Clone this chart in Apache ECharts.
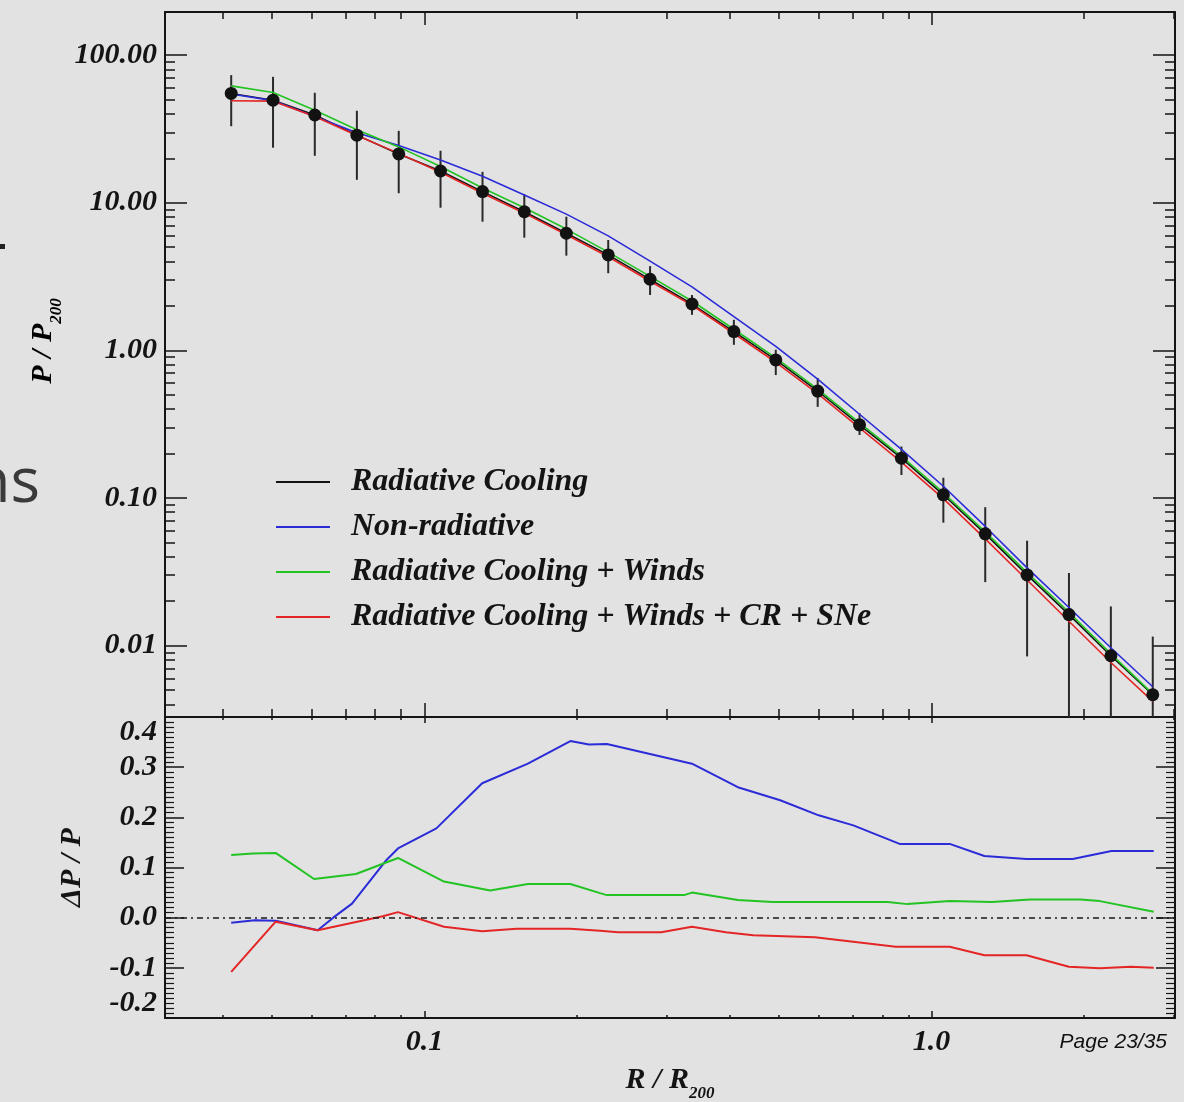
<!DOCTYPE html>
<html>
<head>
<meta charset="utf-8">
<script src="https://cdn.jsdelivr.net/npm/echarts@6/dist/echarts.min.js"></script>
<style>
  html, body { margin: 0; padding: 0; background: #e2e2e2; }
  #chart { width: 1184px; height: 1102px; }
</style>
</head>
<body>
<div id="chart"></div>
<script>
// ---- Radial bins (R / R200) of the pressure profiles ----
const radius = [0.0416, 0.0503, 0.0608, 0.0736, 0.0890, 0.1076, 0.1302, 0.1574, 0.1905, 0.2304,
                0.2786, 0.3370, 0.4076, 0.4930, 0.5963, 0.7211, 0.8722, 1.055, 1.276, 1.543,
                1.866, 2.257, 2.730];

// ---- P / P200 for each run ----
const pCooling = [55.0, 49.5, 39.3, 28.7, 21.4, 16.4, 11.9, 8.69, 6.21, 4.43,
                  3.03, 2.06, 1.34, 0.861, 0.530, 0.313, 0.186, 0.105, 0.0571, 0.0301,
                  0.0162, 0.00853, 0.00464];
const pNonRad = [54.5, 49.2, 38.4, 29.8, 24.4, 19.5, 15.1, 11.3, 8.37, 5.96,
                 4.02, 2.69, 1.69, 1.065, 0.639, 0.369, 0.213, 0.120, 0.0641, 0.0336,
                 0.0181, 0.00966, 0.00526];
const pWinds = [61.9, 55.9, 42.3, 31.2, 23.9, 17.6, 12.6, 9.26, 6.63, 4.63,
                3.17, 2.16, 1.39, 0.888, 0.546, 0.323, 0.191, 0.1085, 0.0589, 0.0312,
                0.0168, 0.00879, 0.00470];
const pWindsCR = [49.1, 48.8, 38.4, 28.5, 21.6, 16.1, 11.6, 8.50, 6.07, 4.31,
                  2.94, 2.02, 1.30, 0.830, 0.509, 0.298, 0.175, 0.0989, 0.0528, 0.0278,
                  0.0146, 0.00768, 0.00418];

// ---- Scatter of the radiative cooling profile (error bar ends) ----
const errLow = [33.0, 23.6, 20.8, 14.3, 11.6, 9.25, 7.44, 5.80, 4.38, 3.33,
                2.37, 1.74, 1.09, 0.68, 0.414, 0.267, 0.143, 0.068, 0.0269, 0.00844,
                0.0015, 0.0012, 0.0010];
const errHigh = [73.2, 71.3, 55.6, 42.0, 30.7, 22.5, 16.2, 11.4, 8.04, 5.59,
                 3.72, 2.37, 1.61, 1.01, 0.65, 0.375, 0.223, 0.137, 0.0866, 0.0513,
                 0.031, 0.0184, 0.0115];

// ---- Fractional difference dP/P relative to the radiative cooling run ----
const rNonRad = [0.0416, 0.0463, 0.0509, 0.0616, 0.0661, 0.0720, 0.0842, 0.0887, 0.1056, 0.130,
                 0.160, 0.194, 0.211, 0.229, 0.337, 0.415, 0.503, 0.599, 0.701, 0.865,
                 1.086, 1.271, 1.539, 1.898, 2.263, 2.742];
const dNonRad = [-0.010, -0.005, -0.006, -0.025, 0.000, 0.028, 0.115, 0.138, 0.178, 0.268,
                 0.307, 0.352, 0.345, 0.346, 0.307, 0.260, 0.234, 0.204, 0.184, 0.147,
                 0.147, 0.123, 0.117, 0.117, 0.133, 0.133];
const rWinds = [0.0416, 0.0459, 0.0509, 0.0606, 0.0733, 0.0887, 0.1093, 0.1348, 0.160, 0.194,
                0.222, 0.229, 0.325, 0.337, 0.415, 0.486, 0.820, 0.896, 1.086, 1.315,
                1.567, 1.967, 2.147, 2.742];
const dWinds = [0.125, 0.128, 0.129, 0.077, 0.087, 0.119, 0.072, 0.054, 0.067, 0.067,
                0.049, 0.045, 0.045, 0.050, 0.035, 0.031, 0.031, 0.027, 0.033, 0.031,
                0.036, 0.036, 0.033, 0.012];
const rWindsCR = [0.0416, 0.0509, 0.0616, 0.0828, 0.0887, 0.1093, 0.130, 0.152, 0.194, 0.222,
                  0.241, 0.293, 0.337, 0.393, 0.445, 0.589, 0.850, 1.086, 1.271, 1.539,
                  1.865, 2.147, 2.471, 2.742];
const dWindsCR = [-0.108, -0.008, -0.025, 0.003, 0.011, -0.018, -0.027, -0.022, -0.022, -0.026,
                  -0.029, -0.029, -0.018, -0.029, -0.035, -0.039, -0.058, -0.058, -0.075, -0.075,
                  -0.098, -0.101, -0.098, -0.100];

// ---- Tick labels ----
const pTickLabels = [0.01, 0.1, 1, 10, 100];
const rTickLabels = [0.1, 1.0];
const seriesNames = ['Radiative Cooling', 'Non-radiative', 'Radiative Cooling + Winds', 'Radiative Cooling + Winds + CR + SNe'];

// ---- Axis extents ----
const R_MIN = 0.0308, R_MAX = 3.02;
const P_MIN = 0.00328, P_MAX = 196;
const D_MIN = -0.2, D_MAX = 0.4;

const lg = Math.log10;
const FONT = '"Liberation Serif", "DejaVu Serif", serif';
const INK = '#141414';
const BLACK = '#121212', BLUE = '#2b2bd8', GREEN = '#22c322', RED = '#e42525';

// decade sub-ticks (2..9 x 10^n) expressed in log10 units
function logMinor(lo, hi) {
  const out = [];
  for (let n = Math.floor(lg(lo)); n <= Math.ceil(lg(hi)); n++) {
    for (let k = 2; k <= 9; k++) {
      const v = k * Math.pow(10, n);
      if (v > lo && v < hi) out.push(lg(v));
    }
  }
  return out;
}
const rMajor = rTickLabels.map(lg);
const rMinor = logMinor(R_MIN, R_MAX);
const pMajor = pTickLabels.map(lg);
const pMinor = logMinor(P_MIN, P_MAX);

const labelFont = { fontFamily: FONT, fontStyle: 'italic', fontWeight: 'bold', fontSize: 30, color: INK };
const richSub = {
  m: { fontFamily: FONT, fontStyle: 'italic', fontWeight: 'bold', fontSize: 30, color: INK, verticalAlign: 'top', lineHeight: 32 },
  s: { fontFamily: FONT, fontStyle: 'italic', fontWeight: 'bold', fontSize: 17, color: INK, verticalAlign: 'top', lineHeight: 17, padding: [20, 0, 0, 0] }
};

function axis(gridIndex, position, min, max, ticks, tickLen, showLine, extra) {
  const a = {
    type: 'value', gridIndex: gridIndex, position: position, min: min, max: max,
    axisLine: { show: showLine, onZero: false, lineStyle: { color: INK, width: 2 } },
    axisTick: { show: true, inside: true, length: tickLen, lineStyle: { color: INK, width: 1.5 } },
    axisLabel: { show: false },
    splitLine: { show: false },
    minorSplitLine: { show: false },
    axisPointer: { show: false }
  };
  if (ticks) a.axisTick.customValues = ticks;
  return Object.assign(a, extra || {});
}

const TOP = { left: 165, top: 12, width: 1010, height: 705 };
const BOT = { left: 165, top: 717, width: 1010, height: 301 };
function grid(rect) {
  return Object.assign({ containLabel: false, outerBoundsMode: 'none', show: false }, rect);
}

const xLo = lg(R_MIN), xHi = lg(R_MAX);
const pLo = lg(P_MIN), pHi = lg(P_MAX);

const xAxes = [
  // top panel, major ticks (0,1) and minor ticks (2,3)
  axis(0, 'bottom', xLo, xHi, rMajor, 14, true),
  axis(0, 'top', xLo, xHi, rMajor, 13, true),
  axis(1, 'bottom', xLo, xHi, rMinor, 8, false),
  axis(1, 'top', xLo, xHi, rMinor, 7, false),
  // lower panel, major ticks (4,5) and minor ticks (6,7)
  axis(2, 'bottom', xLo, xHi, rMajor, 7, true, {
    axisLabel: Object.assign({ show: true, customValues: rMajor, margin: 9,
      formatter: v => Math.pow(10, v).toFixed(1) }, labelFont),
    name: '{m|R / R}{s|200}', nameLocation: 'middle', nameGap: 47,
    nameTextStyle: { rich: richSub }
  }),
  axis(2, 'top', xLo, xHi, rMajor, 6, true),
  axis(3, 'bottom', xLo, xHi, rMinor, 3, false),
  axis(3, 'top', xLo, xHi, rMinor, 3, false)
];

const yAxes = [
  axis(0, 'left', pLo, pHi, pMajor, 22, true, {
    axisLabel: Object.assign({ show: true, customValues: pMajor, margin: 8,
      formatter: v => Math.pow(10, v).toFixed(2) }, labelFont)
  }),
  axis(0, 'right', pLo, pHi, pMajor, 22, true),
  axis(1, 'left', pLo, pHi, pMinor, 10, false),
  axis(1, 'right', pLo, pHi, pMinor, 10, false),
  axis(2, 'left', D_MIN, D_MAX, null, 19, true, {
    interval: 0.1,
    minorTick: { show: true, splitNumber: 10, length: 9, lineStyle: { color: INK, width: 1.2 } },
    axisLabel: Object.assign({ show: true, margin: 8, formatter: v => v.toFixed(1),
      verticalAlignMinLabel: 'bottom', verticalAlignMaxLabel: 'top' }, labelFont),
    name: 'ΔP / P', nameLocation: 'middle', nameGap: 78, nameRotate: 90,
    nameTextStyle: { fontFamily: FONT, fontStyle: 'italic', fontWeight: 'bold', fontSize: 30, color: INK, lineHeight: 30 }
  }),
  axis(2, 'right', D_MIN, D_MAX, null, 19, true, {
    interval: 0.1,
    minorTick: { show: true, splitNumber: 10, length: 9, lineStyle: { color: INK, width: 1.2 } }
  }),
  { type: 'value', gridIndex: 3, show: false, min: D_MIN, max: D_MAX },
  { type: 'value', gridIndex: 3, show: false, min: D_MIN, max: D_MAX, position: 'right' }
];

function renderErrorBar(params, api) {
  const x = api.value(0);
  const lo = api.coord([x, api.value(1)]);
  const hi = api.coord([x, api.value(2)]);
  const cs = params.coordSys;
  return {
    type: 'line',
    shape: { x1: lo[0], y1: Math.min(lo[1], cs.y + cs.height), x2: hi[0], y2: Math.max(hi[1], cs.y) },
    style: { stroke: '#2a2a2a', lineWidth: 2 }
  };
}

function profile(name, values, color) {
  return {
    type: 'line', name: name, xAxisIndex: 0, yAxisIndex: 0,
    data: radius.map((r, i) => [lg(r), lg(values[i])]),
    symbol: 'none', itemStyle: { color: color },
    lineStyle: { color: color, width: 1.6 }, silent: true
  };
}
function ratio(name, xs, ds, color, extra) {
  return Object.assign({
    type: 'line', name: name, xAxisIndex: 4, yAxisIndex: 4,
    data: xs.map((r, i) => [lg(r), ds[i]]),
    symbol: 'none', itemStyle: { color: color },
    lineStyle: { color: color, width: 2 }, silent: true
  }, extra || {});
}

const option = {
  backgroundColor: '#e2e2e2',
  animation: false,
  grid: [grid(TOP), grid(TOP), grid(BOT), grid(BOT)],
  xAxis: xAxes,
  yAxis: yAxes,
  legend: {
    orient: 'vertical', left: 276, top: 460, padding: 0, itemGap: 1,
    itemWidth: 54, itemHeight: 2, selectedMode: false,
    itemStyle: { borderWidth: 0 },
    data: seriesNames.map(n => ({ name: n, icon: 'rect' })),
    textStyle: { fontFamily: FONT, fontStyle: 'italic', fontWeight: 'bold', fontSize: 32, color: INK,
                 lineHeight: 26, padding: [0, 0, 18, 16] }
  },
  series: [
    {
      type: 'custom', name: 'scatter', xAxisIndex: 0, yAxisIndex: 0, silent: true,
      renderItem: renderErrorBar, encode: { x: 0, y: [1, 2] },
      data: radius.map((r, i) => [lg(r), lg(errLow[i]), lg(errHigh[i])])
    },
    {
      type: 'line', name: seriesNames[0], xAxisIndex: 0, yAxisIndex: 0, silent: true,
      data: radius.map((r, i) => [lg(r), lg(pCooling[i])]),
      symbol: 'circle', symbolSize: 13,
      itemStyle: { color: BLACK, borderWidth: 0 },
      lineStyle: { color: BLACK, width: 1.5 }
    },
    profile(seriesNames[1], pNonRad, BLUE),
    profile(seriesNames[2], pWinds, GREEN),
    profile(seriesNames[3], pWindsCR, RED),
    ratio(seriesNames[1], rNonRad, dNonRad, BLUE, {
      markLine: {
        silent: true, symbol: 'none', label: { show: false },
        lineStyle: { color: '#1a1a1a', width: 1.5, type: [6, 4, 2, 4] },
        data: [{ yAxis: 0 }]
      }
    }),
    ratio(seriesNames[2], rWinds, dWinds, GREEN),
    ratio(seriesNames[3], rWindsCR, dWindsCR, RED)
  ],
  graphic: [
    {
      type: 'text', x: 44, y: 341, rotation: Math.PI / 2, silent: true,
      style: { text: '{m|P / P}{s|200}', rich: richSub, align: 'center', verticalAlign: 'middle' }
    },
    {
      type: 'text', x: 1167, y: 1042, silent: true,
      style: { text: 'Page 23/35', fontFamily: '"Liberation Sans", Arial, sans-serif', fontStyle: 'italic',
               fontSize: 21, fill: '#111', align: 'right', verticalAlign: 'middle' }
    },
    {
      type: 'text', x: 40, y: 484, silent: true,
      style: { text: 'ns', fontFamily: '"Open Sans", "Noto Sans", sans-serif', fontSize: 62,
               fill: '#3a3a3a', align: 'right', verticalAlign: 'middle' }
    },
    {
      type: 'rect', x: 0, y: 244, silent: true,
      shape: { width: 5, height: 5 }, style: { fill: '#222' }
    }
  ]
};

const chart = echarts.init(document.getElementById('chart'), null, { renderer: 'canvas' });
chart.setOption(option);
</script>
</body>
</html>
